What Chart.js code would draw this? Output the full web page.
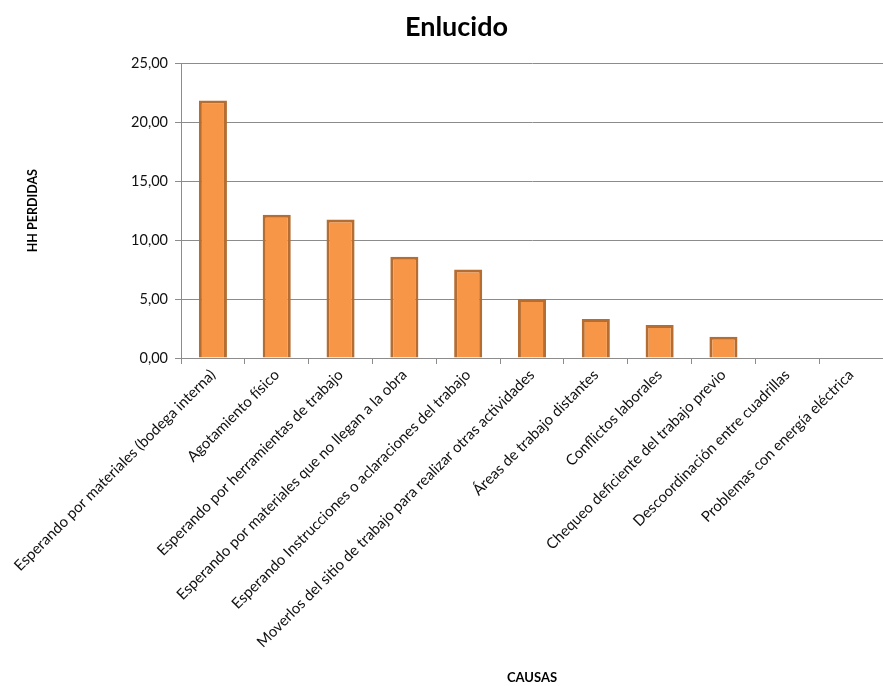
<!DOCTYPE html>
<html lang="es">
<head>
<meta charset="UTF-8">
<title>Enlucido</title>
<script src="https://cdn.jsdelivr.net/npm/chart.js"></script>
<style>
  html, body { margin: 0; padding: 0; background: #fff; }
  #wrap { position: relative; width: 883px; height: 686px; }
</style>
</head>
<body>
<div id="wrap"><canvas id="grafico"></canvas></div>
<script>
// datos
const causas = [
    'Esperando por materiales (bodega interna)',
    'Agotamiento físico',
    'Esperando por herramientas de trabajo',
    'Esperando por materiales que no llegan a la obra',
    'Esperando Instrucciones o aclaraciones del trabajo',
    'Moverlos del sitio de trabajo para realizar otras actividades',
    'Áreas de trabajo distantes',
    'Conflictos laborales',
    'Chequeo deficiente del trabajo previo',
    'Descoordinación entre cuadrillas',
    'Problemas con energía eléctrica'
];
const hhPerdidas = [21.85, 12.15, 11.75, 8.6, 7.5, 5.0, 3.3, 2.8, 1.8, 0, 0];
const ticksY = [0, 5, 10, 15, 20, 25];

const fuente = 'Lato, "Open Sans", sans-serif';

const ctx = document.getElementById('grafico');
new Chart(ctx, {
    type: 'bar',
    data: {
        labels: causas,
        datasets: [{
            label: 'HH PERDIDAS',
            data: hhPerdidas,
            backgroundColor: '#F79646',
            borderColor: '#B66D31',
            borderWidth: 3,
            borderSkipped: 'start',
            barPercentage: 0.44,
            categoryPercentage: 1
        }]
    },
    options: {
        responsive: true,
        maintainAspectRatio: false,
        animation: false,
        layout: { padding: { left: 30, right: 0, top: 0, bottom: 0 } },
        plugins: {
            legend: { display: false },
            tooltip: { enabled: false },
            title: {
                display: true,
                text: 'Enlucido',
                color: '#000',
                font: { family: fuente, size: 27, weight: 'bold' },
                padding: { top: 11, bottom: 20 }
            }
        },
        scales: {
            x: {
                grid: {
                    display: true,
                    drawOnChartArea: false,
                    color: '#8c8c8c',
                    tickLength: 6,
                    offset: true
                },
                border: { color: '#8c8c8c' },
                ticks: {
                    color: '#111',
                    font: { family: fuente, size: 15 },
                    minRotation: 45,
                    maxRotation: 45,
                    autoSkip: false,
                    padding: 2
                },
                title: {
                    display: true,
                    text: 'CAUSAS',
                    color: '#000',
                    font: { family: fuente, size: 13, weight: 'bold' },
                    padding: { top: 0, bottom: 0 }
                },
                afterFit: (s) => { s.height = 328; }
            },
            y: {
                min: 0,
                max: 25,
                afterBuildTicks: (s) => { s.ticks = ticksY.map(v => ({ value: v })); },
                grid: {
                    color: '#8c8c8c',
                    tickLength: 6
                },
                border: { color: '#8c8c8c' },
                ticks: {
                    color: '#111',
                    font: { family: fuente, size: 14.5 },
                    padding: 7,
                    callback: (v) => v.toFixed(2).replace('.', ',')
                },
                title: {
                    display: true,
                    text: 'HH PERDIDAS',
                    color: '#000',
                    font: { family: fuente, size: 12.5, weight: 'bold' },
                    padding: { top: -5, bottom: 0 }
                },
                afterFit: (s) => { s.width = 151; }
            }
        }
    }
});
</script>
</body>
</html>
